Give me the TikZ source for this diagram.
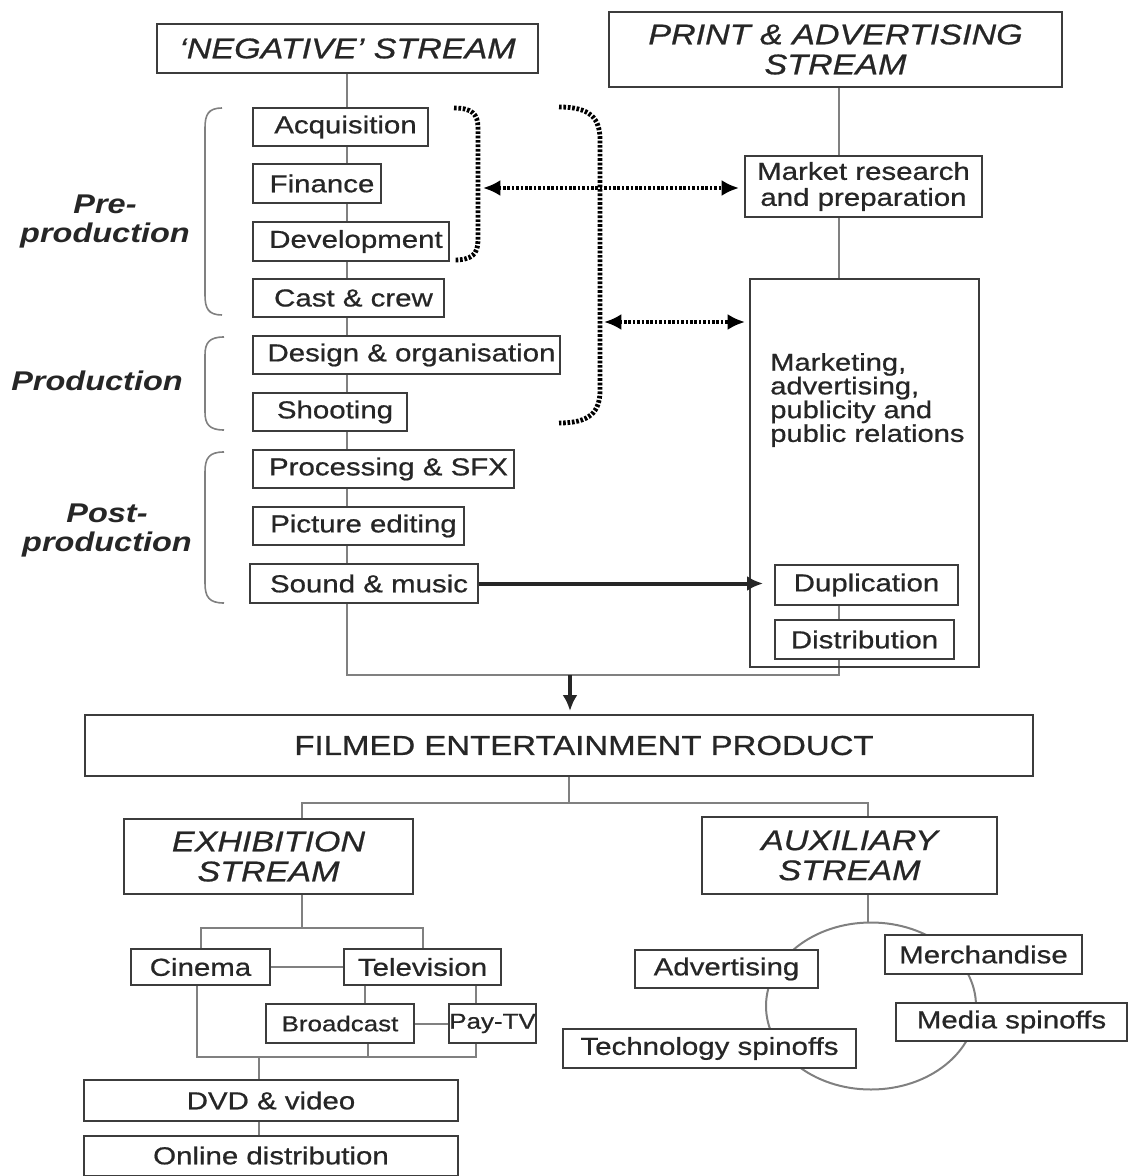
\documentclass[tikz,border=0pt]{standalone}
\usepackage{fontspec}
\setmainfont{Liberation Sans}[FakeStretch=1.2,UprightFeatures={FakeBold=0.7},ItalicFeatures={FakeBold=0.7}]
\usetikzlibrary{arrows.meta,backgrounds,shapes.geometric}
\definecolor{inkgray}{RGB}{38,38,38}
\definecolor{boxgray}{RGB}{60,60,60}
\definecolor{wiregray}{RGB}{128,128,128}
\newlength\px \setlength\px{0.75pt}
\begin{document}
\begin{tikzpicture}[x=0.75pt,y=0.75pt,yscale=-1,xscale=1,
    box/.style={draw=boxgray,line width=2\px,fill=white,text=inkgray,inner sep=0pt,align=center,font=\fontsize{18.4}{19.5}\selectfont},
    small/.style={box,font=\fontsize{16.2}{17}\selectfont},
    head/.style={box,font=\fontsize{21.3}{22.5}\selectfont\itshape},
    stage/.style={text=inkgray,inner sep=0pt,align=center,font=\fontsize{20.3}{21.75}\selectfont\bfseries\itshape},
    wire/.style={draw=wiregray,line width=2\px},
    brace/.style={draw=wiregray,line width=1.6\px},
    dots/.style={draw=black,line width=3.6pt,dash pattern=on 2pt off 1.3pt},
    dotarrow/.style={draw=black,line width=3pt,dash pattern=on 2pt off 1.3pt,{Latex[length=13pt,width=12pt]}-{Latex[length=13pt,width=12pt]}},
    flow/.style={draw=black!85,line width=3pt,-{Latex[length=12pt,width=11.25pt]}}]
    \useasboundingbox (0,0) rectangle (1128,1176);
    % Stream heads
    \node [head,minimum width=381\px,minimum height=49\px] (neg) at (347.5,48.5) {`NEGATIVE' STREAM};
    \node [head,minimum width=453\px,minimum height=75\px] (pa) at (835.5,49.5) {PRINT \& ADVERTISING\\STREAM};
    % Negative stream steps
    \node [box,minimum width=175\px,minimum height=38\px] (acq) at (340.5,127) {\hspace*{10\px}Acquisition};
    \node [box,minimum width=128\px,minimum height=39\px] (fin) at (317,183.5) {\hspace*{10\px}Finance};
    \node [box,minimum width=196\px,minimum height=39\px] (dev) at (351,241.5) {\hspace*{10\px}Development};
    \node [box,minimum width=191\px,minimum height=38\px] (cast) at (348.5,298) {\hspace*{10\px}Cast \& crew};
    \node [box,minimum width=307\px,minimum height=38\px] (design) at (406.5,355) {\hspace*{10\px}Design \& organisation};
    \node [box,minimum width=154\px,minimum height=38\px] (shoot) at (330,412) {\hspace*{10\px}Shooting};
    \node [box,minimum width=261\px,minimum height=38\px] (proc) at (383.5,469) {\hspace*{10\px}Processing \& SFX};
    \node [box,minimum width=211\px,minimum height=38\px] (pic) at (358.5,526) {\hspace*{10\px}Picture editing};
    \node [box,minimum width=228\px,minimum height=39\px] (sound) at (364,583.5) {\hspace*{10\px}Sound \& music};
    % Stage labels
    \node [stage] (pre) at (105,222) {Pre-\\production};
    \node [stage] (prod) at (97,381) {Production};
    \node [stage] (post) at (107,530) {Post-\\production};
    % Stage brackets
    \draw [brace] (222,108) .. controls (208,108) and (205,115) .. (205,128) -- (205,295) .. controls (205,308) and (208,315) .. (222,315);
    \draw [brace] (224,337) .. controls (209,337) and (205,343) .. (205,355) -- (205,412) .. controls (205,424) and (209,430) .. (224,430);
    \draw [brace] (224,452) .. controls (209,452) and (205,458) .. (205,472) -- (205,583) .. controls (205,597) and (209,603) .. (224,603);
    % Print and advertising stream
    \node [box,minimum width=237\px,minimum height=61\px] (market) at (863.5,186.5) {Market research\\and preparation};
    \node [box,fill=none,minimum width=229\px,minimum height=388\px] (mkt) at (864.5,473) {};
    \node [anchor=west,align=left,inner sep=0pt,text=inkgray,font=\fontsize{18.2}{17.8}\selectfont] (mkttxt) at (770,400) {Marketing,\\advertising,\\publicity and\\public relations};
    \node [box,minimum width=183\px,minimum height=40\px] (dup) at (866.5,585) {Duplication};
    \node [box,minimum width=179\px,minimum height=39\px] (dist) at (864.5,639.5) {Distribution};
    % Product
    \node [box,minimum width=948\px,minimum height=61\px,font=\fontsize{20.6}{22}\selectfont] (film) at (559,745.5) {\hspace*{50\px}FILMED ENTERTAINMENT PRODUCT};
    % Exhibition stream
    \node [head,minimum width=289\px,minimum height=75\px] (exh) at (268.5,856.5) {EXHIBITION\\STREAM};
    \node [box,minimum width=139\px,minimum height=36\px] (cinema) at (200.5,967) {Cinema};
    \node [box,minimum width=157\px,minimum height=36\px] (tv) at (422.5,967) {Television};
    \node [small,minimum width=148\px,minimum height=39\px] (broad) at (340,1023.5) {Broadcast};
    \node [small,minimum width=87\px,minimum height=39\px] (paytv) at (492.5,1023.5) {Pay-TV};
    \node [box,minimum width=374\px,minimum height=41\px] (dvd) at (271,1100.5) {DVD \& video};
    \node [box,minimum width=374\px,minimum height=40\px] (online) at (271,1155.5) {Online distribution};
    % Auxiliary stream
    \node [head,minimum width=295\px,minimum height=77\px] (aux) at (849.5,855.5) {AUXILIARY\\STREAM};
    \node [ellipse,draw=wiregray,line width=2\px,minimum width=210\px,minimum height=167\px,inner sep=0pt] (ring) at (871,1006) {};
    \node [box,minimum width=183\px,minimum height=38\px] (advert) at (726.5,969) {Advertising};
    \node [box,minimum width=197\px,minimum height=39\px] (merch) at (983.5,954.5) {Merchandise};
    \node [box,minimum width=231\px,minimum height=38\px] (media) at (1011.5,1022) {Media spinoffs};
    \node [box,minimum width=293\px,minimum height=39\px] (tech) at (709.5,1048.5) {Technology spinoffs};
    % Junctions
    \coordinate (jl) at (347,675);
    \coordinate (jm) at (570,675);
    \coordinate (jr) at (839,675);
    \coordinate (brA) at (478,188);
    \coordinate (brB) at (600,322);
    \coordinate (exc) at (302,803);
    \coordinate (fsp) at (569,803);
    \coordinate (auc) at (868,803);
    \coordinate (ecross) at (302,928);
    \coordinate (tvb) at (365,0);
    \coordinate (tvp) at (476,0);
    \coordinate (ebot) at (259,1057);
    \coordinate (ecin) at (197,1057);
    \coordinate (ebro) at (368,1057);
    % Connection
    \begin{pgfonlayer}{background}
        \draw [wire] (neg.south -| jl) -- (jl) -- (jr) -- (dist.south -| jr);
    \end{pgfonlayer}
    % Connection
    \draw [wire] (pa.south -| jr) -- (market.north -| jr);
    \draw [wire] (market.south -| jr) -- (mkt.north -| jr);
    \draw [wire] (dup.south -| jr) -- (dist.north -| jr);
    % Dotted links
    \draw [dots] (454,108) .. controls (472,108) and (478,114) .. (478,128) -- (478,240) .. controls (478,254) and (472,260) .. (454,260);
    \draw [dots] (559,107) .. controls (590,107) and (600,118) .. (600,140) -- (600,390) .. controls (600,412) and (590,423) .. (559,423);
    \draw [dotarrow,shorten <=3.75pt,shorten >=3.75pt] (brA) -- (brA -| market.west);
    \draw [dotarrow,shorten <=3pt,shorten >=3pt] (brB) -- (brB -| mkt.west);
    % Flow arrows
    \draw [flow,shorten >=8.25pt] (sound.east) -- (sound.east -| dup.west);
    \draw [flow,shorten >=2.25pt] (jm) -- (jm |- film.north);
    % Connection
    \draw [wire] (film.south -| fsp) -- (fsp);
    \draw [wire] (exh.north -| exc) -- (exc) -- (auc) -- (aux.north -| auc);
    \draw [wire] (exh.south -| ecross) -- (ecross);
    \draw [wire] (cinema.north) |- (ecross) -| (tv.north);
    \draw [wire] (cinema.east) -- (tv.west);
    \draw [wire] (tv.south -| tvb) -- (broad.north -| tvb);
    \draw [wire] (tv.south -| tvp) -- (paytv.north -| tvp);
    \draw [wire] (broad.east) -- (paytv.west);
    \draw [wire] (cinema.south -| ecin) -- (ecin) -- (ebot |- ecin) -- (tvp |- ebot) -- (paytv.south -| tvp);
    \draw [wire] (broad.south -| ebro) -- (ebro);
    \draw [wire] (ebot) -- (dvd.north -| ebot);
    \draw [wire] (dvd.south -| ebot) -- (online.north -| ebot);
    \draw [wire] (aux.south -| auc) -- (ring.north -| auc);
\end{tikzpicture}
\end{document}
